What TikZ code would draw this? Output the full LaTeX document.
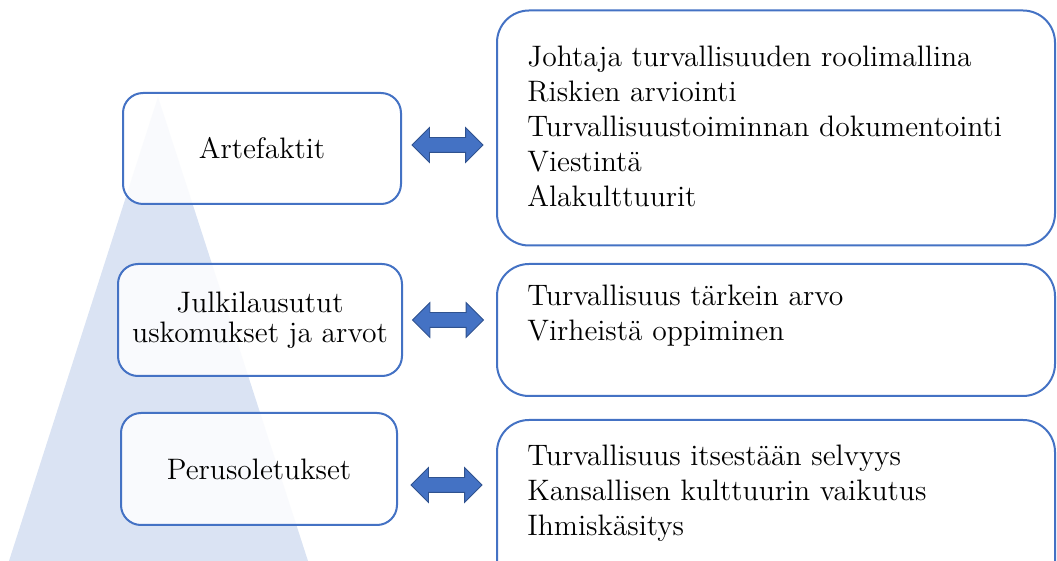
\documentclass[tikz,border=0pt]{standalone}
\usetikzlibrary{shapes.arrows}
\definecolor{boxblue}{HTML}{4472C4}
\definecolor{arrowedge}{HTML}{2F528F}
\definecolor{pyramid}{HTML}{DAE3F3}
\tikzset{
  levelbox/.style={draw=boxblue,line width=1pt,rounded corners=10pt,
    fill=white,fill opacity=.85,text opacity=1,align=center,
    font=\fontsize{14.8}{15}\selectfont},
  itembox/.style={draw=boxblue,line width=1pt,rounded corners=16pt,fill=white},
  itemtext/.style={anchor=north west,inner sep=0pt,align=left,
    font=\fontsize{14.8}{17.4}\selectfont},
  linkarrow/.style={double arrow,fill=boxblue,draw=arrowedge,line width=.4pt,
    minimum height=35.5pt,inner sep=0pt,text height=7pt,text depth=0pt,
    double arrow head extend=5pt}
}
\begin{document}
\begin{tikzpicture}[x=.5pt,y=-.5pt]
  \useasboundingbox (0,0) rectangle (1057,561);
  % pyramid behind the levels
  \fill[pyramid] (158,97) -- (308,561) -- (9,561) -- cycle;
  % levels
  \node[levelbox,minimum width=139pt,minimum height=55.5pt] (art) at (262,148.5) {Artefaktit};
  \node[levelbox,minimum width=142pt,minimum height=56pt] (arvot) at (260,320) {Julkilausutut\\uskomukset ja arvot};
  \node[levelbox,minimum width=138pt,minimum height=56pt] (perus) at (259,469) {Perusoletukset};
  % contents
  \node[itembox,minimum width=279pt,minimum height=117.5pt] (artR) at (776,128) {};
  \node[itembox,minimum width=279pt,minimum height=66pt] (arvotR) at (776,330) {};
  \node[itembox,minimum width=279pt,minimum height=90pt] (perusR) at (776,510) {};
  \node[itemtext] (artT) at (527,46) {Johtaja turvallisuuden roolimallina\\Riskien arviointi\\Turvallisuustoiminnan dokumentointi\\Viestintä\\Alakulttuurit};
  \node[itemtext] (arvotT) at (527,285) {Turvallisuus tärkein arvo\\Virheistä oppiminen};
  \node[itemtext] (perusT) at (527,445) {Turvallisuus itsestään selvyys\\Kansallisen kulttuurin vaikutus\\Ihmiskäsitys};
  % links
  \node[linkarrow] (artA) at (447.5,145) {};
  \node[linkarrow] (arvotA) at (448,320) {};
  \node[linkarrow] (perusA) at (446.5,485) {};
\end{tikzpicture}
\end{document}
